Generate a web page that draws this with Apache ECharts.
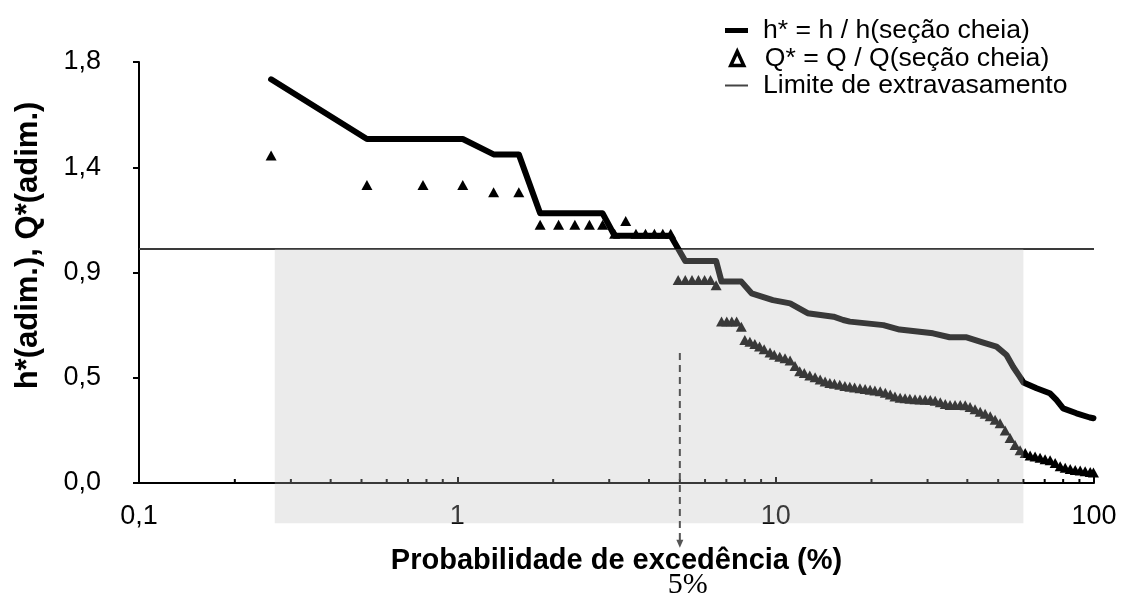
<!DOCTYPE html>
<html>
<head>
<meta charset="utf-8">
<script src="https://cdn.jsdelivr.net/npm/echarts@6/dist/echarts.min.js"></script>
<style>
  html, body { margin: 0; padding: 0; background: #ffffff; }
  #chart { width: 1122px; height: 601px; }
</style>
</head>
<body>
<div id="chart"></div>
<script>
// Exceedance probability (%) vs. relative depth h* and relative discharge Q*
const hStar = [
  [0.26, 1.726], [0.52, 1.471], [1.04, 1.471], [1.30, 1.405], [1.56, 1.405],
  [1.82, 1.153], [2.86, 1.153], [3.12, 1.057], [4.68, 1.057], [5.20, 0.949],
  [6.50, 0.949], [6.76, 0.861], [7.80, 0.861], [8.40, 0.811], [9.8, 0.782],
  [11.1, 0.768], [12.6, 0.726], [15.2, 0.711], [16.3, 0.697], [17.1, 0.690],
  [21.8, 0.675], [24.5, 0.656], [31.2, 0.640], [35.2, 0.623], [39.8, 0.623],
  [44.9, 0.600], [49.4, 0.583], [53.1, 0.547], [55.7, 0.497], [58.5, 0.454],
  [60.0, 0.430], [66.0, 0.405], [72.6, 0.384], [76.2, 0.355], [80.0, 0.319],
  [88.1, 0.298], [97.0, 0.280], [99.6, 0.277]
];

const qStar = [
  [0.26, 1.400], [0.52, 1.274], [0.78, 1.274], [1.04, 1.274], [1.30, 1.243],
  [1.56, 1.243], [1.82, 1.104], [2.08, 1.104], [2.34, 1.104], [2.60, 1.104],
  [2.86, 1.104], [3.12, 1.066], [3.38, 1.120], [3.64, 1.066], [3.90, 1.066],
  [4.16, 1.066], [4.42, 1.066], [4.68, 1.066], [4.94, 0.868], [5.20, 0.868],
  [5.46, 0.868], [5.72, 0.868], [5.98, 0.868], [6.24, 0.868], [6.50, 0.846],
  [6.76, 0.690], [7.02, 0.690], [7.28, 0.690], [7.54, 0.690], [7.80, 0.668],
  [8.0, 0.611], [8.3, 0.604], [8.6, 0.594], [8.9, 0.584], [9.2, 0.572],
  [9.6, 0.558], [9.9, 0.548], [10.3, 0.540], [10.7, 0.533], [11.1, 0.524],
  [11.5, 0.500], [11.9, 0.478], [12.3, 0.470], [12.8, 0.460], [13.3, 0.452],
  [13.8, 0.442], [14.3, 0.434], [14.8, 0.428], [15.3, 0.424], [15.9, 0.420],
  [16.5, 0.415], [17.1, 0.411], [17.7, 0.408], [18.4, 0.405], [19.1, 0.402],
  [19.8, 0.399], [20.5, 0.396], [21.3, 0.392], [22.1, 0.386], [22.9, 0.378],
  [23.7, 0.370], [24.6, 0.364], [25.5, 0.362], [26.4, 0.360], [27.4, 0.358],
  [28.4, 0.357], [29.5, 0.356], [30.6, 0.355], [31.7, 0.352], [32.9, 0.345],
  [34.1, 0.338], [35.3, 0.333], [36.6, 0.333], [38.0, 0.333], [39.4, 0.332],
  [40.8, 0.325], [42.3, 0.315], [43.9, 0.305], [45.5, 0.296], [47.2, 0.285],
  [48.9, 0.270], [50.7, 0.255], [52.6, 0.225], [54.5, 0.192], [56.5, 0.163],
  [58.6, 0.140], [60.8, 0.128], [63.0, 0.118], [65.3, 0.113], [67.7, 0.108],
  [70.2, 0.102], [72.8, 0.097], [75.5, 0.085], [78.3, 0.072], [81.2, 0.065],
  [84.2, 0.060], [87.3, 0.056], [90.5, 0.053], [93.8, 0.050], [97.3, 0.047],
  [99.6, 0.045]
];

const overflowLimit = [[0.1, 1.0], [100, 1.0]];

const yTickValues = [0, 0.45, 0.9, 1.35, 1.8];
const yTickLabels = ['0,0', '0,5', '0,9', '1,4', '1,8'];
const xTickLabels = { 0.1: '0,1', 1: '1', 10: '10', 100: '100' };
const xMinorTicks = [0.2, 0.3, 0.4, 0.5, 0.6, 0.7, 0.8, 0.9,
                     2, 3, 4, 5, 6, 7, 8, 9,
                     20, 30, 40, 50, 60, 70, 80, 90];

// shaded region: [x from, y top, x to, y bottom] — reaches below the axis into the label band
const shadeRegion = [[0.267, 1.0, 60, -0.172]];
// 5 % exceedance marker: [x, y top, y tip]
const markerLine = [[5, 0.556, -0.277]];
const markerLabel = '5%';

const FONT = 'Liberation Sans, Arial, sans-serif';

const chart = echarts.init(document.getElementById('chart'), null, { renderer: 'canvas' });

chart.setOption({
  animation: false,
  backgroundColor: '#ffffff',
  grid: { left: 139, right: 28, top: 62, bottom: 118, containLabel: false },
  legend: [
    {
      left: 720, top: 12, itemWidth: 23, itemHeight: 5, icon: 'rect',
      data: [{ name: 'h* = h / h(seção cheia)', itemStyle: { color: '#000', opacity: 1 } }],
      textStyle: { fontFamily: FONT, fontSize: 26.6, color: '#000', padding: [0, 0, 0, 10] }
    },
    {
      left: 724, top: 40, itemWidth: 13, itemHeight: 14, icon: 'triangle',
      data: [{ name: 'Q* = Q / Q(seção cheia)',
               itemStyle: { color: '#fff', borderColor: '#000', borderWidth: 3.5, opacity: 1 } }],
      textStyle: { fontFamily: FONT, fontSize: 26.6, color: '#000', padding: [0, 0, 0, 16] }
    },
    {
      left: 720, top: 67, itemWidth: 23, itemHeight: 2, icon: 'rect',
      data: [{ name: 'Limite de extravasamento', itemStyle: { color: '#444', opacity: 1 } }],
      textStyle: { fontFamily: FONT, fontSize: 26.6, color: '#000', padding: [0, 0, 0, 10] }
    }
  ],
  xAxis: {
    type: 'log', logBase: 10, min: 0.1, max: 100,
    name: 'Probabilidade de excedência (%)',
    nameLocation: 'middle', nameGap: 63,
    nameTextStyle: { fontFamily: FONT, fontSize: 29, fontWeight: 'bold', color: '#000' },
    axisLine: { lineStyle: { color: '#000', width: 2 } },
    axisTick: { inside: true, length: 6, lineStyle: { color: '#000', width: 2 } },
    axisLabel: {
      margin: 20, fontFamily: FONT, fontSize: 27, color: '#000',
      formatter: (v) => xTickLabels[v] !== undefined ? xTickLabels[v] : String(v).replace('.', ',')
    },
    splitLine: { show: false }
  },
  yAxis: {
    type: 'value', min: 0, max: 1.8, interval: 0.45,
    name: 'h*(adim.), Q*(adim.)',
    nameLocation: 'middle', nameGap: 95, nameRotate: 90,
    nameTextStyle: { fontFamily: FONT, fontSize: 31, fontWeight: 'bold', color: '#000',
                     padding: [0, 0, 0, 54] },
    axisLine: { show: true, lineStyle: { color: '#000', width: 2 } },
    axisTick: { show: true, inside: false, length: 6, lineStyle: { color: '#000', width: 2 } },
    axisLabel: {
      margin: 38, fontFamily: FONT, fontSize: 27, color: '#000',
      formatter: (v, i) => yTickLabels[yTickValues.indexOf(v)] ?? yTickLabels[i]
    },
    splitLine: { show: false }
  },
  series: [
    {
      name: 'Limite de extravasamento',
      type: 'line', data: overflowLimit, showSymbol: false, z: 2,
      lineStyle: { color: '#3a3a3a', width: 2 }, itemStyle: { color: '#444' }
    },
    {
      name: 'h* = h / h(seção cheia)',
      type: 'line', data: hStar, showSymbol: false, z: 3,
      lineStyle: { color: '#000', width: 6, join: 'round', cap: 'round' },
      itemStyle: { color: '#000' }
    },
    {
      name: 'Q* = Q / Q(seção cheia)',
      type: 'scatter', data: qStar, symbol: 'triangle', symbolSize: [11, 10], z: 4,
      itemStyle: { color: '#000', opacity: 1 }
    },
    {
      // minor ticks of the log axis at 2..9 within each decade
      type: 'custom', silent: true, clip: false, z: 5,
      data: xMinorTicks.map(v => [v, 0]),
      renderItem: (params, api) => {
        const p = api.coord([api.value(0), api.value(1)]);
        return {
          type: 'line',
          shape: { x1: p[0], y1: p[1], x2: p[0], y2: p[1] - 4 },
          style: { stroke: '#000', lineWidth: 2 }
        };
      }
    },
    {
      // translucent shading laid over curves and axis
      type: 'custom', silent: true, clip: false, z: 20,
      data: shadeRegion,
      encode: { x: [0, 2], y: [1, 3] },
      renderItem: (params, api) => {
        const a = api.coord([api.value(0), api.value(1)]);
        const b = api.coord([api.value(2), api.value(3)]);
        return {
          type: 'rect',
          shape: { x: a[0], y: a[1], width: b[0] - a[0], height: b[1] - a[1] },
          style: { fill: 'rgba(190,190,190,0.3)' }
        };
      }
    },
    {
      // dashed arrow and label for 5 % exceedance
      type: 'custom', silent: true, clip: false, z: 21,
      data: markerLine,
      encode: { x: 0, y: [1, 2] },
      renderItem: (params, api) => {
        const top = api.coord([api.value(0), api.value(1)]);
        const tip = api.coord([api.value(0), api.value(2)]);
        return {
          type: 'group',
          children: [
            {
              type: 'line',
              shape: { x1: top[0], y1: top[1], x2: tip[0], y2: tip[1] - 7 },
              style: { stroke: '#555', lineWidth: 2, lineDash: [7, 5] }
            },
            {
              type: 'polygon',
              shape: { points: [[tip[0] - 3.5, tip[1] - 8], [tip[0] + 3.5, tip[1] - 8], [tip[0], tip[1]]] },
              style: { fill: '#555' }
            },
            {
              type: 'text',
              x: tip[0] + 8, y: tip[1] + 37,
              style: { text: markerLabel, fontFamily: 'Liberation Serif, Times New Roman, serif',
                       fontSize: 30, fill: '#000', align: 'center', verticalAlign: 'middle' }
            }
          ]
        };
      }
    }
  ]
});
</script>
</body>
</html>
